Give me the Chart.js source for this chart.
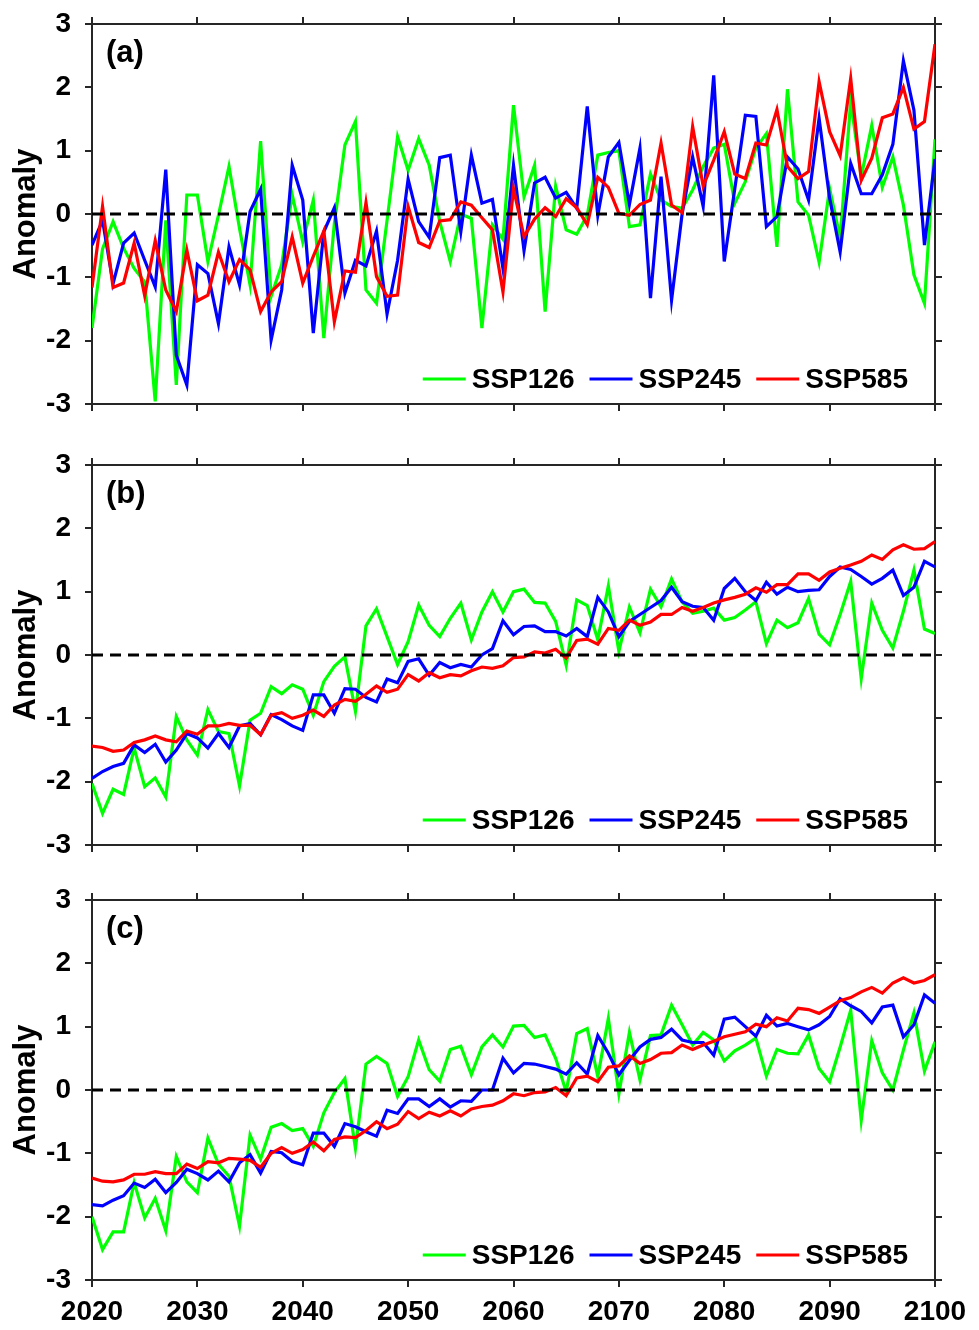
<!DOCTYPE html>
<html>
<head>
<meta charset="utf-8">
<script src="https://cdn.jsdelivr.net/npm/chart.js@4.4.1/dist/chart.umd.min.js"></script>
<style>
body { margin: 0; background: #fff; width: 979px; height: 1330px; position: relative; overflow: hidden; }
canvas { position: absolute; left: 0; }
</style>
</head>
<body>
<canvas id="pa" width="979" height="440" style="top:0px"></canvas>
<canvas id="pb" width="979" height="440" style="top:440px"></canvas>
<canvas id="pc" width="979" height="450" style="top:880px"></canvas>
<script>
// years 2020..2100
const years = Array.from({length: 81}, (_, i) => 2020 + i);
const xTicks = [2020, 2030, 2040, 2050, 2060, 2070, 2080, 2090, 2100];
const yTicks = [-3, -2, -1, 0, 1, 2, 3];
const seriesNames = ['SSP126', 'SSP245', 'SSP585'];

// panel (a)
const a126 = [-1.8,-0.55,-0.12,-0.54,-0.86,-1.07,-2.96,-0.1,-2.7,0.3,
  0.3,-0.75,-0.02,0.75,-0.23,-1.12,1.15,-1.3,-0.8,0.3,
  -0.44,0.22,-1.96,-0.15,1.09,1.46,-1.2,-1.41,-0.1,1.22,
  0.69,1.19,0.77,-0.12,-0.75,0,-0.07,-1.8,-0.17,-0.4,
  1.72,0.27,0.77,-1.54,0.44,-0.25,-0.32,-0.02,0.93,0.97,
  1.0,-0.2,-0.17,0.63,0.22,0.12,0.09,0.38,0.75,1.04,
  1.1,0.17,0.51,1.04,1.27,-0.52,1.97,0.19,-0.02,-0.76,
  0.4,-0.38,1.78,0.59,1.4,0.42,0.9,0.14,-0.96,-1.41,1.18];
const a245 = [-0.49,-0.1,-1.1,-0.46,-0.3,-0.73,-1.15,0.7,-2.23,-2.7,
  -0.8,-0.94,-1.73,-0.52,-1.12,0.04,0.39,-1.99,-1.2,0.77,
  0.22,-1.88,-0.28,0.1,-1.25,-0.73,-0.82,-0.27,-1.58,-0.73,
  0.55,-0.12,-0.37,0.89,0.93,-0.28,0.93,0.17,0.23,-0.86,
  0.77,-0.58,0.49,0.58,0.25,0.34,0.09,1.7,-0.02,0.9,
  1.13,0.15,1.04,-1.33,0.59,-1.36,0.0,0.9,0.12,2.19,
  -0.75,0.4,1.56,1.54,-0.2,-0.04,0.9,0.71,0.22,1.51,
  0.25,-0.6,0.8,0.32,0.32,0.62,1.1,2.42,1.64,-0.49,0.87];
const a585 = [-1.16,0.12,-1.16,-1.09,-0.46,-1.29,-0.42,-1.2,-1.54,-0.57,
  -1.37,-1.28,-0.6,-1.07,-0.72,-0.88,-1.54,-1.23,-1.07,-0.36,
  -1.09,-0.67,-0.27,-1.7,-0.9,-0.92,0.18,-0.99,-1.3,-1.28,
  0.12,-0.45,-0.53,-0.11,-0.09,0.19,0.14,-0.06,-0.25,-1.23,
  0.4,-0.36,-0.08,0.1,-0.04,0.24,0.1,-0.17,0.58,0.42,
  0.01,-0.02,0.15,0.22,1.12,0.14,0.02,1.38,0.44,0.85,
  1.3,0.63,0.56,1.12,1.09,1.65,0.75,0.56,0.67,2.09,
  1.3,0.92,2.14,0.53,0.88,1.52,1.58,2.0,1.34,1.46,2.68];

// panel (b)
const b126 = [-2.03,-2.5,-2.12,-2.2,-1.47,-2.08,-1.94,-2.24,-0.97,-1.34,
  -1.58,-0.86,-1.21,-1.24,-2.07,-1.03,-0.92,-0.5,-0.61,-0.47,
  -0.54,-0.95,-0.42,-0.18,-0.03,-0.89,0.46,0.73,0.29,-0.15,
  0.21,0.79,0.47,0.29,0.58,0.82,0.24,0.68,1.0,0.68,
  1.0,1.04,0.83,0.82,0.53,-0.16,0.87,0.78,0.24,1.09,
  0.06,0.76,0.35,1.04,0.76,1.2,0.84,0.66,0.69,0.74,
  0.55,0.59,0.71,0.84,0.18,0.55,0.43,0.51,0.89,0.33,
  0.16,0.64,1.16,-0.37,0.82,0.39,0.11,0.69,1.34,0.41,0.34];
const b245 = [-1.95,-1.84,-1.76,-1.71,-1.42,-1.54,-1.41,-1.69,-1.5,-1.24,
  -1.31,-1.47,-1.24,-1.46,-1.12,-1.08,-1.26,-0.94,-1.02,-1.12,
  -1.19,-0.63,-0.63,-0.92,-0.53,-0.54,-0.67,-0.74,-0.38,-0.44,
  -0.1,-0.06,-0.32,-0.12,-0.2,-0.15,-0.19,0,0.1,0.54,
  0.32,0.45,0.46,0.37,0.37,0.3,0.42,0.29,0.91,0.68,
  0.29,0.53,0.64,0.75,0.86,1.07,0.84,0.77,0.75,0.55,
  1.05,1.21,1.0,0.86,1.15,0.96,1.07,1.0,1.02,1.03,
  1.24,1.39,1.35,1.24,1.12,1.21,1.34,0.94,1.07,1.48,1.39];
const b585 = [-1.44,-1.46,-1.52,-1.5,-1.38,-1.34,-1.28,-1.34,-1.37,-1.2,
  -1.25,-1.12,-1.12,-1.08,-1.11,-1.11,-1.26,-0.95,-0.91,-1.0,
  -0.95,-0.87,-0.97,-0.79,-0.7,-0.73,-0.62,-0.49,-0.59,-0.54,
  -0.31,-0.41,-0.28,-0.36,-0.31,-0.33,-0.25,-0.19,-0.21,-0.17,
  -0.04,-0.03,0.05,0.03,0.09,-0.05,0.23,0.25,0.17,0.42,
  0.39,0.55,0.47,0.52,0.64,0.64,0.75,0.69,0.75,0.82,
  0.87,0.91,0.96,1.06,0.99,1.11,1.11,1.28,1.28,1.18,
  1.31,1.37,1.42,1.48,1.58,1.51,1.66,1.74,1.67,1.68,1.79];

// panel (c)
const c126 = [-2.0,-2.52,-2.24,-2.24,-1.46,-2.02,-1.71,-2.22,-1.05,-1.45,
  -1.62,-0.76,-1.17,-1.36,-2.15,-0.71,-1.09,-0.59,-0.53,-0.64,
  -0.61,-0.89,-0.36,-0.04,0.18,-0.92,0.41,0.53,0.42,-0.1,
  0.21,0.79,0.32,0.14,0.64,0.69,0.24,0.68,0.87,0.68,
  1.01,1.02,0.83,0.87,0.5,-0.03,0.89,0.97,0.21,1.13,
  -0.06,0.91,0.16,0.86,0.87,1.34,1.03,0.71,0.91,0.79,
  0.46,0.62,0.71,0.82,0.22,0.64,0.58,0.57,0.87,0.34,
  0.13,0.68,1.26,-0.48,0.78,0.27,0,0.63,1.22,0.3,0.76];
const c245 = [-1.81,-1.83,-1.74,-1.67,-1.47,-1.54,-1.41,-1.62,-1.46,-1.25,
  -1.32,-1.42,-1.28,-1.45,-1.15,-1.02,-1.31,-0.97,-0.99,-1.13,
  -1.18,-0.68,-0.68,-0.89,-0.53,-0.58,-0.66,-0.73,-0.32,-0.37,
  -0.14,-0.14,-0.26,-0.14,-0.27,-0.17,-0.18,0,0,0.5,
  0.27,0.42,0.41,0.37,0.33,0.25,0.43,0.25,0.86,0.58,
  0.24,0.47,0.68,0.8,0.83,0.96,0.79,0.75,0.75,0.55,
  1.12,1.15,1.0,0.85,1.18,1.01,1.05,1.0,0.95,1.03,
  1.16,1.44,1.33,1.24,1.06,1.31,1.34,0.84,1.03,1.5,1.37];
const c585 = [-1.39,-1.44,-1.45,-1.42,-1.33,-1.33,-1.29,-1.32,-1.32,-1.17,
  -1.24,-1.13,-1.15,-1.08,-1.09,-1.11,-1.22,-1.0,-0.91,-1.0,
  -0.94,-0.82,-0.96,-0.78,-0.74,-0.75,-0.64,-0.5,-0.61,-0.54,
  -0.34,-0.45,-0.35,-0.41,-0.33,-0.41,-0.3,-0.26,-0.24,-0.17,
  -0.06,-0.09,-0.04,-0.03,0.04,-0.09,0.19,0.22,0.13,0.36,
  0.38,0.54,0.42,0.48,0.58,0.59,0.71,0.64,0.71,0.77,
  0.84,0.88,0.92,1.04,1.0,1.14,1.09,1.29,1.27,1.21,
  1.31,1.41,1.46,1.55,1.62,1.53,1.69,1.77,1.69,1.73,1.82];

const FONT = "'Liberation Sans', Arial, Helvetica, sans-serif";
const AXIS = '#262626';
Chart.defaults.font.family = FONT;
Chart.defaults.font.weight = 'bold';
Chart.defaults.font.size = 28;
Chart.defaults.color = '#000';

function pts(vals){
    return vals.map((v, i) => ({x: years[i], y: v}));
}

// legend + panel tag, drawn inside the plot box
const panelDecor = {
    id: 'panelDecor',
    afterDraw(chart, args, opts){
        const ctx = chart.ctx, ca = chart.chartArea;
        ctx.save();
        ctx.fillStyle = '#000';
        ctx.font = 'bold 31px ' + FONT;
        ctx.textBaseline = 'middle';
        ctx.textAlign = 'left';
        ctx.fillText(opts.tag, ca.left + 14, ca.top + 29);

        ctx.font = 'bold 28px ' + FONT;
        const items = chart.data.datasets.filter(d => d.label);
        const lineLen = 43, gap = 6, sep = 15;
        let total = 0;
        items.forEach(d => { total += lineLen + gap + ctx.measureText(d.label).width; });
        total += sep * (items.length - 1);
        let x = ca.right - 27 - total;
        const y = ca.bottom - 25;
        items.forEach(d => {
            ctx.strokeStyle = d.borderColor;
            ctx.lineWidth = 3;
            ctx.beginPath();
            ctx.moveTo(x, y);
            ctx.lineTo(x + lineLen, y);
            ctx.stroke();
            x += lineLen + gap;
            ctx.fillText(d.label, x, y + 1);
            x += ctx.measureText(d.label).width + sep;
        });
        ctx.restore();
    }
};

function LinePanel(canvasid, tag, v126, v245, v585, showYears, topH, bottomH){
    const ctx = document.getElementById(canvasid).getContext('2d');
    const setTicks = list => scale => { scale.ticks = list.map(v => ({value: v})); };
    const grid = {drawOnChartArea: false, drawTicks: true, tickLength: 7, color: AXIS, lineWidth: 2};
    const border = {display: true, color: AXIS, width: 2};

    const chart = new Chart(ctx, {
        type: 'line',
        data: {
            datasets: [
                {label: seriesNames[0], data: pts(v126), borderColor: '#00ff00', order: 3},
                {label: seriesNames[1], data: pts(v245), borderColor: '#0000ff', order: 2},
                {label: seriesNames[2], data: pts(v585), borderColor: '#ff0000', order: 1},
                {label: '', data: [{x: xTicks[0], y: 0}, {x: xTicks[xTicks.length - 1], y: 0}],
                 borderColor: '#000', borderWidth: 2.8, borderDash: [11, 7], order: 0}
            ]
        },
        options: {
            responsive: false,
            animation: false,
            events: [],
            elements: {
                line: {borderWidth: 3.2, tension: 0, fill: false},
                point: {radius: 0}
            },
            layout: {padding: 0},
            plugins: {
                legend: {display: false},
                tooltip: {enabled: false},
                panelDecor: {tag: tag}
            },
            scales: {
                x: {
                    type: 'linear', position: 'bottom',
                    min: xTicks[0], max: xTicks[xTicks.length - 1],
                    afterBuildTicks: setTicks(xTicks),
                    ticks: {display: showYears, padding: 8, maxRotation: 0, autoSkip: false,
                            callback: v => String(v)},
                    grid: grid, border: border,
                    afterFit: s => { s.height = bottomH; }
                },
                x2: {
                    type: 'linear', position: 'top',
                    min: xTicks[0], max: xTicks[xTicks.length - 1],
                    afterBuildTicks: setTicks(xTicks),
                    ticks: {display: false},
                    grid: grid, border: border,
                    afterFit: s => { s.height = topH; }
                },
                y: {
                    type: 'linear', position: 'left',
                    min: yTicks[0], max: yTicks[yTicks.length - 1],
                    afterBuildTicks: setTicks(yTicks),
                    ticks: {padding: 14, autoSkip: false},
                    title: {display: true, text: 'Anomaly', font: {size: 31, weight: 'bold'},
                            padding: {top: 8, bottom: 0}},
                    grid: grid, border: border,
                    afterFit: s => { s.width = 92; s.paddingTop = 10; s.paddingBottom = 10; }
                },
                y2: {
                    type: 'linear', position: 'right',
                    min: yTicks[0], max: yTicks[yTicks.length - 1],
                    afterBuildTicks: setTicks(yTicks),
                    ticks: {display: false},
                    grid: grid, border: border,
                    afterFit: s => { s.width = 979 - 935; s.paddingTop = 0; s.paddingBottom = 0; }
                }
            }
        },
        plugins: [panelDecor]
    });
    return chart;
}

LinePanel('pa', '(a)', a126, a245, a585, false, 24, 36);
LinePanel('pb', '(b)', b126, b245, b585, false, 25, 35);
LinePanel('pc', '(c)', c126, c245, c585, true, 20, 50);
</script>
</body>
</html>
